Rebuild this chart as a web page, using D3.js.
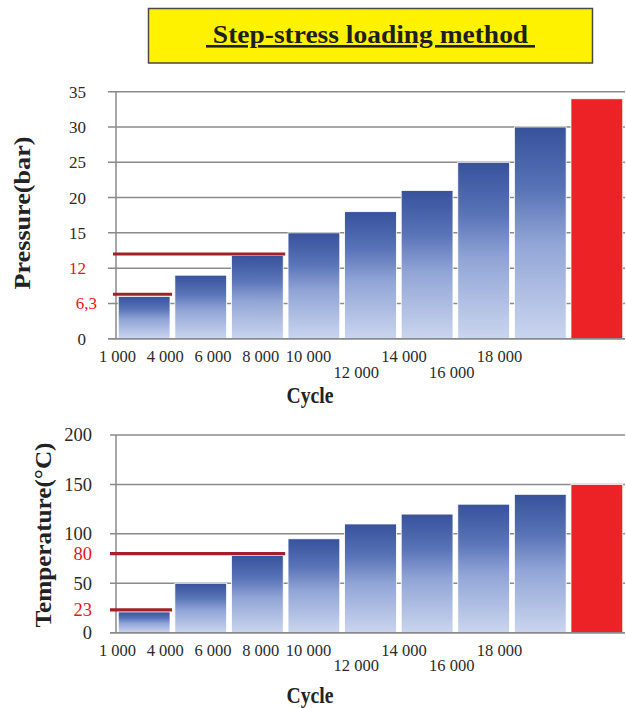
<!DOCTYPE html>
<html>
<head>
<meta charset="utf-8">
<script src="https://cdn.jsdelivr.net/npm/d3@7"></script>
<style>
  html, body { margin: 0; padding: 0; background: #fff; }
  svg { display: block; }
  text { font-family: "Liberation Serif", "DejaVu Serif", serif; }
</style>
</head>
<body>
<svg id="chart" width="626" height="708"></svg>
<script>
// ---------- DATA ----------
const titleText = " Step-stress loading method ";
const cycles = ["1 000", "4 000", "6 000", "8 000", "10 000", "12 000", "14 000", "16 000", "18 000"];
const pressureValues = [6, 9, 11.8, 15, 18, 21, 25, 30, 34];
const temperatureValues = [21, 50, 78, 95, 110, 120, 130, 140, 150];
const pressureTicks = [0, 5, 10, 15, 20, 25, 30, 35];
const pressureTickLabels = ["0", "6,3", "12", "15", "20", "25", "30", "35"];
const pressureRedLabels = ["6,3", "12"];
const pressureGrid = [0, 5, 10, 15, 20, 25, 30, 35];
const pressureRefLines = [6.3, 12];
const temperatureTicks = [0, 23, 50, 80, 100, 150, 200];
const temperatureTickLabels = ["0", "23", "50", "80", "100", "150", "200"];
const temperatureRedLabels = ["23", "80"];
const temperatureGrid = [0, 50, 100, 150, 200];
const temperatureRefLines = [23, 80];
const lowerLabelCycles = ["12 000", "16 000"];
const highlightCycle = "18 000";

const svg = d3.select("#chart");
const defs = svg.append("defs");
const grad = defs.append("linearGradient").attr("id", "barGrad")
  .attr("x1", 0).attr("y1", 0).attr("x2", 0).attr("y2", 1);
grad.append("stop").attr("offset", "0%").attr("stop-color", "#37519c");
grad.append("stop").attr("offset", "30%").attr("stop-color", "#5a74b8");
grad.append("stop").attr("offset", "55%").attr("stop-color", "#91a5d6");
grad.append("stop").attr("offset", "100%").attr("stop-color", "#cad5ee");

// ---------- TITLE ----------
svg.append("rect").attr("x", 148.5).attr("y", 8.5).attr("width", 444).attr("height", 54.5)
  .attr("fill", "#fff200").attr("stroke", "#4a4a40").attr("stroke-width", 1.5);
svg.append("text").attr("x", 206).attr("y", 43)
  .attr("font-size", 26).attr("font-weight", "bold").attr("fill", "#1e1e1e")
  .attr("textLength", 329).attr("lengthAdjust", "spacingAndGlyphs")
  .attr("text-decoration", "underline")
  .style("white-space", "pre")
  .text(titleText);

// ---------- CHART FUNCTION ----------
function drawChart(o) {
  const g = svg.append("g");
  const x = d3.scaleBand().domain(cycles).range([116, 625]).paddingInner(0.085).paddingOuter(0.04);
  const y = d3.scaleLinear().domain(o.domain).range([o.y0, o.y1]);
  const labelX = d3.scalePoint().domain(cycles).range([117.5, 499.5]);

  // gridlines
  g.selectAll(".grid").data(o.grid).join("line")
    .attr("x1", o.gridLeft).attr("x2", 625)
    .attr("y1", d => y(d)).attr("y2", d => y(d))
    .attr("stroke", "#8a8a8a").attr("stroke-width", 1.5);

  // bars
  g.selectAll(".bar").data(o.values).join("rect")
    .attr("x", (d, i) => x(cycles[i]))
    .attr("width", x.bandwidth())
    .attr("y", d => y(d))
    .attr("height", d => y(0) - y(d))
    .attr("fill", (d, i) => cycles[i] === highlightCycle ? "#ec2227" : "url(#barGrad)")
    .attr("stroke", "#ffffff").attr("stroke-width", 0.8);

  // axes lines
  g.append("line").attr("x1", 116).attr("x2", 116).attr("y1", y(o.domain[1])).attr("y2", y(0))
    .attr("stroke", "#8a8a8a").attr("stroke-width", 1.5);
  g.append("line").attr("x1", o.gridLeft).attr("x2", 625).attr("y1", y(0)).attr("y2", y(0))
    .attr("stroke", "#8a8a8a").attr("stroke-width", 1.5);

  // reference lines (red)
  g.selectAll(".ref").data(o.refLines).join("line")
    .attr("x1", o.refLeft)
    .attr("x2", (d, i) => x(cycles[i === 0 ? 0 : 2]) + x.bandwidth() + 2)
    .attr("y1", d => y(d)).attr("y2", d => y(d))
    .attr("stroke", "#a3202b").attr("stroke-width", 3.2);

  // y tick labels
  g.selectAll(".ytl").data(o.ticks).join("text")
    .attr("x", (d, i) => o.labelRight + (o.labelShift[o.tickLabels[i]] || 0))
    .attr("y", d => y(d))
    .attr("dy", "0.35em")
    .attr("text-anchor", "end")
    .attr("font-size", o.tickSize)
    .attr("fill", (d, i) => o.redLabels.includes(o.tickLabels[i]) ? "#e8141c" : "#2a2a2a")
    .text((d, i) => o.tickLabels[i]);

  // x tick labels
  g.selectAll(".xtl").data(cycles).join("text")
    .attr("x", d => labelX(d))
    .attr("y", d => lowerLabelCycles.includes(d) ? o.xRow2 : o.xRow1)
    .attr("text-anchor", "middle")
    .attr("font-size", 16.5)
    .attr("fill", "#2a2a2a")
    .text(d => d);

  // x title
  g.append("text").attr("x", 310).attr("y", o.xTitleY)
    .attr("text-anchor", "middle").attr("font-size", 24).attr("font-weight", "bold")
    .attr("fill", "#222")
    .attr("textLength", 47).attr("lengthAdjust", "spacingAndGlyphs")
    .text("Cycle");

  // y title
  g.append("text")
    .attr("transform", `translate(${o.yTitleX},${o.yTitleY}) rotate(-90)`)
    .attr("text-anchor", "middle").attr("font-size", 24).attr("font-weight", "bold")
    .attr("fill", "#222")
    .attr("textLength", o.yTitleLen).attr("lengthAdjust", "spacingAndGlyphs")
    .text(o.yTitle);
}

drawChart({
  values: pressureValues, domain: [0, 35], y0: 338.7, y1: 91.7,
  grid: pressureGrid, gridLeft: 108, refLines: pressureRefLines, refLeft: 113,
  ticks: pressureTicks, tickLabels: pressureTickLabels, redLabels: pressureRedLabels,
  labelRight: 86, labelShift: {"6,3": 11}, tickSize: 17,
  xRow1: 362, xRow2: 378, xTitleY: 403,
  yTitle: "Pressure(bar)", yTitleX: 30, yTitleY: 213, yTitleLen: 153
});

drawChart({
  values: temperatureValues, domain: [0, 200], y0: 632.7, y1: 435,
  grid: temperatureGrid, gridLeft: 110, refLines: temperatureRefLines, refLeft: 110,
  ticks: temperatureTicks, tickLabels: temperatureTickLabels, redLabels: temperatureRedLabels,
  labelRight: 92, labelShift: {}, tickSize: 18.5,
  xRow1: 656, xRow2: 671, xTitleY: 703,
  yTitle: "Temperature(°C)", yTitleX: 51, yTitleY: 535, yTitleLen: 185
});
</script>
</body>
</html>
